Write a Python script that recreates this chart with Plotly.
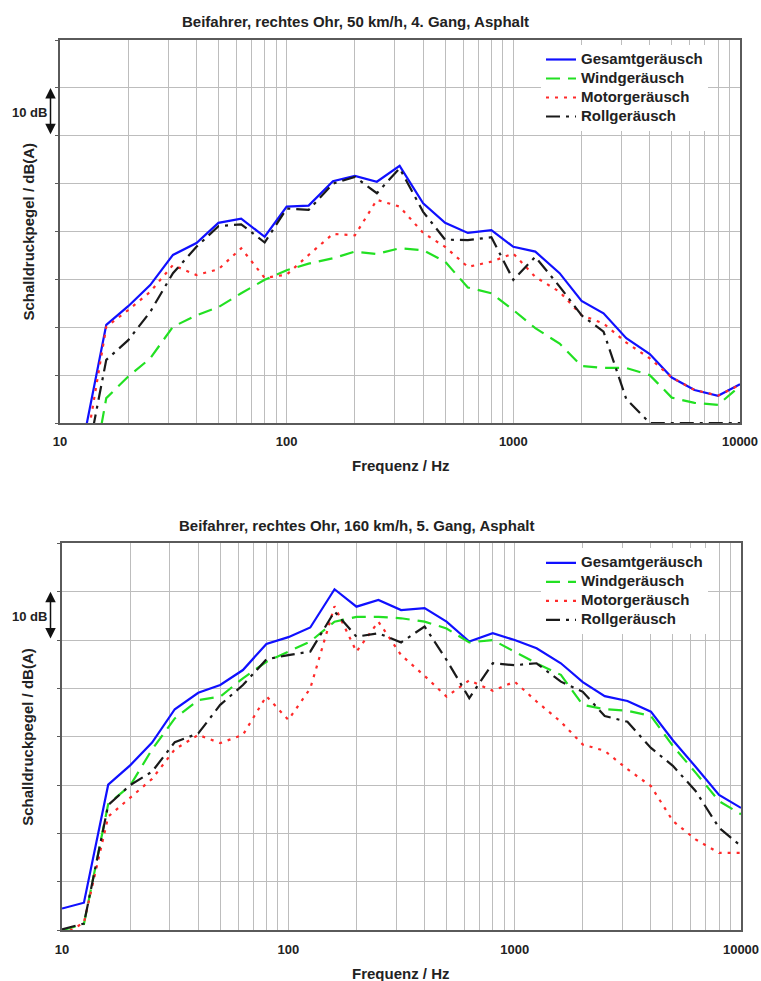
import plotly.graph_objects as go

# 1/3-octave band centre frequencies (Hz)
freq = [10, 12.5, 16, 20, 25, 31.5, 40, 50, 63, 80, 100, 125, 160, 200, 250, 315,
        400, 500, 630, 800, 1000, 1250, 1600, 2000, 2500, 3150, 4000, 5000, 6300,
        8000, 10000]

# Chart 1: 50 km/h, 4. Gang (relative dB(A), 10 dB per grid division)
gesamt_50 = [None, -5.2, 20.5, 24.4, 28.8, 35.1, 37.6, 41.8, 42.7, 38.9, 45.2, 45.4,
             50.5, 51.6, 50.4, 53.7, 45.9, 41.8, 39.7, 40.3, 36.8, 35.8, 31.3, 25.5,
             22.9, 17.7, 14.4, 9.5, 6.9, 5.7, 8.1]
wind_50 = [None, -23, 5.2, 9.7, 13.5, 20.1, 22.5, 24.2, 27.1, 29.9, 31.9, 33.3, 34.4,
           35.8, 35.3, 36.5, 36.1, 33.7, 28.3, 27.1, 23.6, 19.8, 16.6, 11.9, 11.5,
           11.5, 10.0, 5.3, 4.2, 3.8, 7.7]
motor_50 = [None, -10, 20.1, 23.6, 27.4, 33.0, 30.9, 32.1, 36.5, 30.3, 31.0, 35.1,
            39.5, 39.2, 46.6, 45.2, 39.7, 36.8, 32.6, 33.7, 35.4, 30.5, 27.4, 22.5,
            20.8, 16.8, 13.5, 9.5, 6.9, 5.7, 8.0]
roll_50 = [None, -13, 13.2, 17.3, 23.2, 31.3, 36.8, 41.1, 41.5, 37.7, 44.8, 44.5,
           50.0, 51.4, 48.0, 53.2, 44.1, 38.3, 38.2, 38.8, 29.9, 34.7, 28.5, 22.5,
           19.1, 5.0, 0.0, 0.0, 0.0, 0.0, 0.0]

# Chart 2: 160 km/h, 5. Gang
gesamt_160 = [4.5, 5.7, 30.1, 34.1, 38.8, 45.7, 49.1, 50.7, 53.8, 59.2, 60.6, 62.6,
              70.5, 66.9, 68.3, 66.2, 66.6, 63.8, 59.7, 61.4, 60.0, 58.3, 55.2, 51.3,
              48.4, 47.4, 45.2, 39.3, 33.8, 28.0, 25.3]
wind_160 = [0.0, 1.3, 26.1, 29.9, 37.4, 43.8, 47.6, 48.3, 52.1, 55.5, 57.6, 59.7,
            63.8, 64.8, 64.8, 64.5, 63.8, 62.4, 59.5, 60.0, 57.6, 55.2, 52.8, 46.6,
            45.7, 45.4, 44.3, 38.1, 32.6, 26.7, 24.0]
motor_160 = [-1.0, 1.6, 23.5, 27.5, 31.3, 37.4, 40.4, 38.7, 40.4, 48.4, 43.5, 50.0,
             67.0, 57.6, 63.8, 56.9, 52.6, 48.3, 51.7, 49.5, 51.4, 47.3, 43.1, 38.4,
             37.1, 33.3, 29.8, 22.6, 18.8, 16.0, 16.0]
roll_160 = [0.2, 1.4, 25.9, 30.0, 32.8, 38.9, 40.7, 46.6, 50.7, 56.0, 56.9, 57.6,
            65.9, 60.7, 61.4, 59.5, 62.8, 55.9, 48.0, 55.2, 54.8, 55.2, 51.4, 49.3,
            44.3, 43.1, 37.7, 34.0, 28.8, 21.2, 17.4]

series_names = ["Gesamtgeräusch", "Windgeräusch", "Motorgeräusch", "Rollgeräusch"]
titles = ["Beifahrer, rechtes Ohr, 50 km/h, 4. Gang, Asphalt",
          "Beifahrer, rechtes Ohr, 160 km/h, 5. Gang, Asphalt"]
x_tick_vals = [10, 20, 30, 40, 50, 60, 70, 80, 90,
               100, 200, 300, 400, 500, 600, 700, 800, 900,
               1000, 2000, 3000, 4000, 5000, 6000, 7000, 8000, 9000, 10000]
x_tick_text = [str(v) if v in (10, 100, 1000, 10000) else "" for v in x_tick_vals]

W, H = 761, 981
FONT = "Liberation Sans, Arial, sans-serif"
TXT = "#222222"
styles = [
    dict(color="#1010ff", width=2.2, dash="solid"),
    dict(color="#22e022", width=2.2, dash="14px,8px"),
    dict(color="#ff2a2a", width=2.2, dash="3px,6px"),
    dict(color="#1a1a1a", width=2.2, dash="14px,6px,3px,6px"),
]

def px_x(p):
    return p / W

def px_y(p):
    return 1 - p / H

fig = go.Figure()

datasets = [
    (gesamt_50, wind_50, motor_50, roll_50),
    (gesamt_160, wind_160, motor_160, roll_160),
]
for k, ds in enumerate(datasets):
    xa = "x" if k == 0 else "x2"
    ya = "y" if k == 0 else "y2"
    lg = "legend" if k == 0 else "legend2"
    for name, vals, st in zip(series_names, ds, styles):
        fig.add_trace(go.Scatter(
            x=freq, y=vals, mode="lines",
            name='<span style="font-size:15px">' + name + "</span>",
            line=st, xaxis=xa, yaxis=ya, legend=lg, connectgaps=False,
        ))

# plot areas in pixels: (left, right, top, bottom)
areas = [(60, 740, 40, 423), (62, 741, 543.3, 930.3)]

axis_common_x = dict(
    type="log", range=[1, 4], tickvals=x_tick_vals, ticktext=x_tick_text,
    showgrid=True, gridcolor="#bdbdbd", gridwidth=1,
    showline=True, linecolor="#5a5a5a", linewidth=1.6, mirror=True,
    ticks="", tickfont=dict(family=FONT, size=13, color=TXT, weight="bold"),
    ticklabelstandoff=6, zeroline=False, fixedrange=True, automargin=False,
)
axis_common_y = dict(
    range=[0, 80], dtick=10, showticklabels=False,
    showgrid=True, gridcolor="#bdbdbd", gridwidth=1,
    showline=True, linecolor="#5a5a5a", linewidth=1.6, mirror=True,
    ticks="outside", ticklen=3, tickcolor="#5a5a5a", zeroline=False,
    fixedrange=True, automargin=False,
)

layout = dict(
    width=W, height=H, margin=dict(l=0, r=0, t=0, b=0, autoexpand=False),
    paper_bgcolor="white", plot_bgcolor="white",
    font=dict(family=FONT, color=TXT),
    showlegend=True,
)

for k, (l, r, t, b) in enumerate(areas):
    sx = "" if k == 0 else "2"
    layout["xaxis" + sx] = dict(axis_common_x, domain=[px_x(l), px_x(r)],
                                anchor="y" + sx)
    layout["yaxis" + sx] = dict(axis_common_y, domain=[px_y(b), px_y(t)],
                                anchor="x" + sx)
    lgname = "legend" if k == 0 else "legend2"
    layout[lgname] = dict(
        x=px_x(541), y=px_y(t + 5), xanchor="left", yanchor="top",
        bgcolor="white", borderwidth=0, tracegroupgap=0,
        font=dict(family=FONT, size=12, color=TXT, weight="bold"),
        itemwidth=30,
    )

fig.update_layout(**layout)

ann = []
title_pos = [(355.5, 22), (356.5, 525)]
for k, (l, r, t, b) in enumerate(areas):
    sy = "y" if k == 0 else "y2"
    tx, ty = title_pos[k]
    ann.append(dict(text=titles[k], x=px_x(tx), y=px_y(ty), xref="paper", yref="paper",
                    xanchor="center", yanchor="middle", showarrow=False,
                    font=dict(family=FONT, size=15, color=TXT, weight="bold")))
    ann.append(dict(text="Schalldruckpegel / dB(A)", x=px_x(28), y=px_y((t + b) / 2),
                    xref="paper", yref="paper", xanchor="center", yanchor="middle",
                    textangle=-90, showarrow=False,
                    font=dict(family=FONT, size=15, color=TXT, weight="bold")))
    ann.append(dict(text="Frequenz / Hz", x=px_x(401), y=px_y(b + 43),
                    xref="paper", yref="paper", xanchor="center", yanchor="middle",
                    showarrow=False,
                    font=dict(family=FONT, size=15, color=TXT, weight="bold")))
    ann.append(dict(text="10 dB", x=px_x(29), y=64.8, xref="paper", yref=sy,
                    xanchor="center", yanchor="middle", showarrow=False,
                    font=dict(family=FONT, size=13, color=TXT, weight="bold")))
    ann.append(dict(text="", x=px_x(50.5), y=70, xref="paper", yref=sy,
                    ax=0, ay=60, axref="pixel", ayref=sy,
                    showarrow=True, arrowhead=2, arrowside="end+start",
                    arrowsize=1.4, arrowwidth=1.5, arrowcolor="#111111"))
fig.update_layout(annotations=ann)

fig.write_html(
    "out.html",
    config={"responsive": False, "displayModeBar": False},
    post_script="document.body.style.margin='0';document.body.style.overflow='hidden';",
)
